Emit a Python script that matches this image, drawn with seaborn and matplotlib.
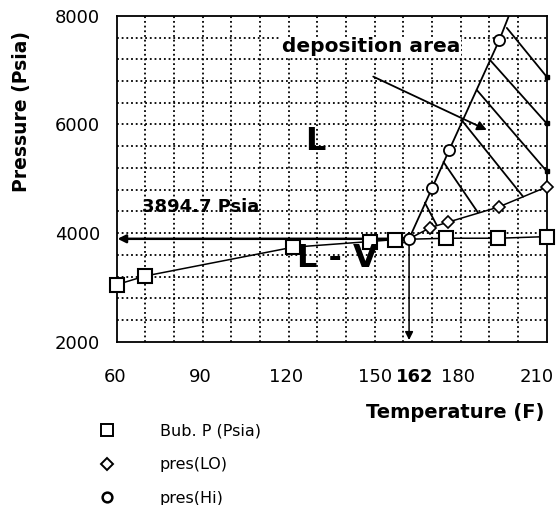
import matplotlib
matplotlib.use("Agg")
import matplotlib.pyplot as plt
import matplotlib.transforms as mtransforms
from matplotlib.lines import Line2D
import seaborn as sns
import pandas as pd

# ---- data ----
bub_T = [60, 70, 121.5, 148.5, 157, 175, 193, 210]
bub_P = [3050, 3210, 3740, 3845, 3880, 3905, 3905, 3935]

lo_T = [162, 169.4, 175.5, 193.2, 210]
lo_P = [3895, 4100, 4200, 4480, 4850]

hi_T = [162, 170, 176, 193.5]
hi_P = [3895, 4826, 5530, 7558]
hi_top_T = 196.8          # where the Hi curve leaves the top of the chart
hi_top_P = 8000

# tie lines between the Hi and LO curves: (T_start, P_start, T_end, P_end)
tie_T0 = [167.5, 174, 180.3, 185.6, 190.2, 196.1]
tie_P0 = [4560, 5310, 6084, 6637, 7190, 7779]
tie_T1 = [171.6, 186, 201.8, 210, 210, 210]
tie_P1 = [4150, 4380, 4670, 5140, 6020, 6880]

T_star = 162
P_star = 3894.7

x_ticks = [60, 90, 120, 150, 162, 180, 210]
y_ticks = [2000, 4000, 6000, 8000]

sns.set_theme(style="white")
plt.rcParams["font.family"] = ["DejaVu Sans"]
plt.rcParams["text.color"] = "black"

fig = plt.figure(figsize=(5.58, 5.05), dpi=100)
ax = fig.add_axes([0.2091, 0.3234, 0.7706, 0.6451])

ax.set_xlim(60, 210)
ax.set_ylim(2000, 8000)

# grid (dotted) on minor ticks
ax.xaxis.remove_overlapping_locs = False
ax.yaxis.remove_overlapping_locs = False
ax.set_xticks(list(range(70, 210, 10)), minor=True)
ax.set_yticks(list(range(2400, 8000, 400)), minor=True)
ax.grid(which="minor", color="black", linestyle=(0, (1, 1.6)), linewidth=1.3)
ax.grid(which="major", visible=False)
ax.set_xticks(x_ticks)
ax.set_yticks(y_ticks)
ax.set_xticklabels([str(v) for v in x_ticks])
ax.set_yticklabels([str(v) for v in y_ticks])
ax.tick_params(which="both", length=0, labelsize=13, colors="black")
ax.tick_params(axis="x", pad=19)
ax.tick_params(axis="y", pad=12)
shifts = {"60": -2, "90": -2, "120": -3, "162": 6, "180": -3, "210": -10}
for lab in ax.get_xticklabels():
    txt = lab.get_text()
    if txt == "162":
        lab.set_fontweight("bold")
    if txt in shifts:
        off = mtransforms.ScaledTranslation(shifts[txt] / 100, 0, fig.dpi_scale_trans)
        lab.set_transform(lab.get_transform() + off)
for s in ax.spines.values():
    s.set_color("black")
    s.set_linewidth(1.3)
    s.set_zorder(5)

# series
df_b = pd.DataFrame({"T": bub_T, "P": bub_P})
df_l = pd.DataFrame({"T": lo_T, "P": lo_P})
df_h = pd.DataFrame({"T": hi_T + [hi_top_T], "P": hi_P + [hi_top_P]})

sns.lineplot(data=df_b, x="T", y="P", ax=ax, color="black", linewidth=1.1, sort=False, zorder=3)
sns.lineplot(data=df_l, x="T", y="P", ax=ax, color="black", linewidth=1.1, sort=False, zorder=3)
sns.lineplot(data=df_h, x="T", y="P", ax=ax, color="black", linewidth=1.3, sort=False, zorder=3)

ax.plot(bub_T, bub_P, linestyle="none", marker="s", markersize=9.5, mfc="white", mec="black", mew=1.5, zorder=6, clip_on=False)
ax.plot(lo_T, lo_P, linestyle="none", marker="D", markersize=6, mfc="white", mec="black", mew=1.2, zorder=6, clip_on=False)
ax.plot(hi_T, hi_P, linestyle="none", marker="o", markersize=8, mfc="white", mec="black", mew=1.3, zorder=7, clip_on=False)

# tie lines
for t0, p0, t1, p1 in zip(tie_T0, tie_P0, tie_T1, tie_P1):
    ax.plot([t0, t1], [p0, p1], color="black", linewidth=1.3, zorder=3)
    if t1 >= 210:
        ax.plot([t1], [p1], marker="s", markersize=3.5, color="black", zorder=6, clip_on=False)

# 3894.7 psia horizontal line and 162 F vertical line with arrowheads
ax.annotate("", xy=(60.3, P_star), xytext=(T_star, P_star),
            arrowprops=dict(arrowstyle="-|>", color="black", lw=1.8, mutation_scale=12,
                            shrinkA=0, shrinkB=0), zorder=4)
ax.annotate("", xy=(T_star, 2030), xytext=(T_star, P_star),
            arrowprops=dict(arrowstyle="-|>", color="black", lw=1.1, mutation_scale=12,
                            shrinkA=0, shrinkB=0), zorder=4)
# deposition area arrow
ax.annotate("", xy=(189.1, 5900), xytext=(149.5, 6882),
            arrowprops=dict(arrowstyle="-|>", color="black", lw=1.3, mutation_scale=14,
                            shrinkA=0, shrinkB=0), zorder=4)

# texts
ax.text(148.8, 7432, "deposition area", ha="center", va="center", fontsize=14.5,
        fontweight="bold", color="black", zorder=8,
        bbox=dict(facecolor="white", edgecolor="none", pad=0.5))
ax.text(129.2, 5679, "L", ha="center", va="center", fontsize=23, fontweight="bold", zorder=8)
ax.text(137, 3523, "L - V", ha="center", va="center", fontsize=23, fontweight="bold", zorder=8)
ax.text(89.4, 4487, "3894.7 Psia", ha="center", va="center", fontsize=13,
        fontweight="bold", zorder=8)

ax.set_xlabel("")
ax.set_ylabel("")
fig.text(455 / 558, 1 - 412 / 505, "Temperature (F)", ha="center", va="center",
         fontsize=14, fontweight="bold")
fig.text(22 / 558, 1 - 112 / 505, "Pressure (Psia)", ha="center", va="center",
         rotation=90, fontsize=13.5, fontweight="bold")

# legend
handles = [
    Line2D([], [], linestyle="none", marker="s", markersize=9, mfc="white", mec="black", mew=1.4),
    Line2D([], [], linestyle="none", marker="D", markersize=6, mfc="white", mec="black", mew=1.4),
    Line2D([], [], linestyle="none", marker="o", markersize=7, mfc="white", mec="black", mew=1.8),
]
labels = ["Bub. P (Psia)", "pres(LO)", "pres(Hi)"]
fig.legend(handles, labels, loc="upper left", bbox_to_anchor=(99 / 558, 1 - 424 / 505),
           bbox_transform=fig.transFigure, frameon=False, handlelength=1.0,
           handletextpad=2.8, labelspacing=1.15, borderpad=0, borderaxespad=0,
           prop={"size": 11.5})

fig.savefig("out.png", dpi=100)
